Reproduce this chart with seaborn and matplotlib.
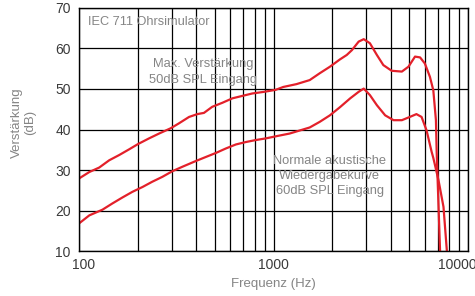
import pandas as pd
import seaborn as sns
import matplotlib.pyplot as plt
import matplotlib.transforms as mtransforms
from matplotlib.ticker import FixedLocator, NullFormatter

# Max. Verstaerkung, 50dB SPL Eingang (Hz / dB)
max_freq = [100, 113, 127, 143, 161, 181, 201, 229, 258, 296, 326, 368, 406, 439, 484,
            546, 615, 692, 779, 895, 1026, 1122, 1312, 1535, 1730, 1950, 2195, 2380,
            2530, 2740, 2910, 3130, 3400, 3670, 4050, 4570, 4940, 5340, 5670, 6000,
            6370, 6630, 6840, 6900, 7180, 7230]
max_gain = [27.9, 29.5, 30.6, 32.4, 33.7, 35.1, 36.4, 37.8, 39.0, 40.3, 41.5, 43.1, 43.8,
            44.1, 45.6, 46.6, 47.7, 48.3, 48.9, 49.3, 49.8, 50.5, 51.2, 52.2, 53.9, 55.5,
            57.3, 58.4, 59.6, 61.7, 62.3, 61.3, 58.4, 55.9, 54.5, 54.3, 55.5, 58.0, 57.8,
            56.3, 53.0, 49.7, 42.3, 34.5, 10.2, 8.0]

# Normale akustische Wiedergabekurve, 60dB SPL Eingang (Hz / dB)
norm_freq = [100, 113, 132, 148, 167, 188, 212, 238, 268, 302, 340, 398, 448, 505, 568,
             640, 720, 811, 912, 1047, 1210, 1535, 1730, 1950, 2195, 2480, 2740, 2910,
             3130, 3400, 3750, 4140, 4570, 5020, 5430, 5770, 6120, 6500, 6630, 7050,
             7480, 7780, 7850]
norm_gain = [16.8, 18.8, 20.2, 21.7, 23.2, 24.6, 25.8, 27.1, 28.3, 29.7, 30.8, 32.2, 33.2,
             34.2, 35.3, 36.3, 36.9, 37.4, 37.8, 38.4, 39.0, 40.5, 41.9, 43.5, 45.5, 47.7,
             49.3, 50.1, 48.5, 46.0, 43.5, 42.3, 42.3, 43.1, 43.8, 43.1, 39.8, 34.5, 33.0,
             27.5, 20.9, 10.2, 8.0]

x_ticks = [100, 1000, 10000]
x_labels = ["100", "1000", "10000"]
y_ticks = [10, 20, 30, 40, 50, 60, 70]

df = pd.concat([
    pd.DataFrame({"Frequenz": max_freq, "Verstaerkung": max_gain, "Kurve": "max"}),
    pd.DataFrame({"Frequenz": norm_freq, "Verstaerkung": norm_gain, "Kurve": "normal"}),
])

sns.set_style("white")
plt.rcParams['font.family'] = ['Liberation Sans', 'DejaVu Sans']

fig = plt.figure(figsize=(4.75, 2.96), dpi=100)
ax = fig.add_axes([0.1663, 0.152, 0.8190, 0.821])

sns.lineplot(data=df, x="Frequenz", y="Verstaerkung", units="Kurve", estimator=None,
             sort=False, color="#e3202a", lw=1.6, ax=ax)

ax.set_xscale("log")
ax.set_xlim(100, 10000)
ax.set_ylim(10, 70)

minor = [m * d for d in (100, 1000) for m in range(2, 10)]
ax.xaxis.set_major_locator(FixedLocator(x_ticks))
ax.xaxis.set_minor_locator(FixedLocator(minor))
ax.xaxis.set_minor_formatter(NullFormatter())
ax.set_xticklabels(x_labels)
ax.set_yticks(y_ticks)

ax.grid(True, which="both", color="black", lw=0.9)
ax.set_axisbelow(True)
for s in ax.spines.values():
    s.set_color("black")
    s.set_linewidth(1.0)
ax.tick_params(which="both", length=0, labelsize=10, labelcolor="#3a3a3a")
ax.tick_params(axis="y", pad=6)
ax.tick_params(axis="x", pad=5)

# nudge first and last x labels like in the original
labs = ax.get_xticklabels()
labs[0].set_transform(labs[0].get_transform() + mtransforms.ScaledTranslation(5 / 100, 0, fig.dpi_scale_trans))
labs[2].set_transform(labs[2].get_transform() + mtransforms.ScaledTranslation(-11 / 100, 0, fig.dpi_scale_trans))

ax.set_xlabel("Frequenz (Hz)", fontsize=9.5, color="#858585", labelpad=4)
ax.set_ylabel("Verstärkung\n(dB)", fontsize=9.5, color="#858585", linespacing=1.15)
ax.yaxis.set_label_coords(-0.11, 0.53)

ax.text(111, 66.5, "IEC 711 Ohrsimulator", fontsize=9.2, color="#858585", va="center")
ax.text(434, 54.2, "Max. Verstärkung\n50dB SPL Eingang", fontsize=9.3, color="#858585",
        ha="center", va="center", linespacing=1.35)
ax.text(1950, 28.5, "Normale akustische\nWiedergabekurve\n60dB SPL Eingang", fontsize=9.3,
        color="#858585", ha="center", va="center", linespacing=1.35)

fig.savefig("out.png", dpi=100)
